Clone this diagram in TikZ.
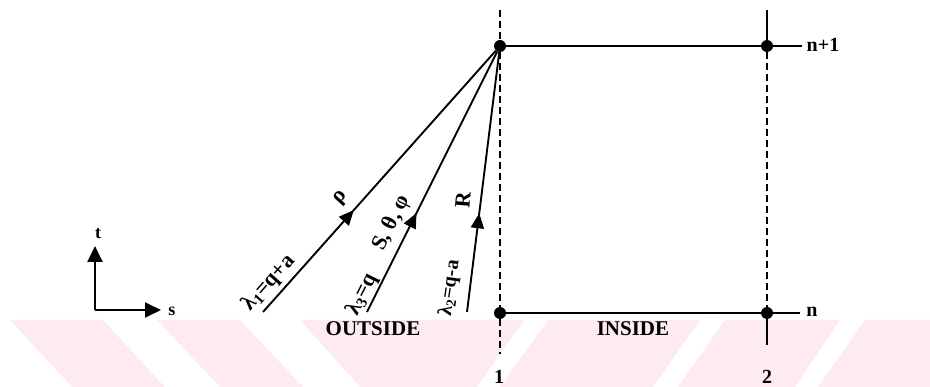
\documentclass[tikz,border=0pt]{standalone}
\usepackage{fontspec}
\setmainfont{Liberation Serif}
\usetikzlibrary{arrows.meta,decorations.markings}
\definecolor{wm}{RGB}{253,235,239}
\tikzset{
  lbl/.style={font=\bfseries\fontsize{20}{22}\selectfont, inner sep=0pt},
  raylbl/.style={font=\bfseries\fontsize{22}{24}\selectfont, inner sep=0pt},
  biglbl/.style={font=\bfseries\fontsize{21}{23}\selectfont, inner sep=0pt},
  smalllbl/.style={font=\bfseries\fontsize{18}{20}\selectfont, inner sep=0pt},
  dot/.style={circle, fill=black, inner sep=0pt, minimum size=12pt},
  solidline/.style={line width=1.9pt},
  dashline/.style={line width=1.5pt, dash pattern=on 7pt off 4pt},
  tip/.style={-{Triangle[length=16pt,width=15pt]}},
  ray/.style={line width=1.9pt, postaction={decorate},
    decoration={markings, mark=at position #1 with {\arrow{Triangle[length=15pt,width=13pt]}}}},
}
\begin{document}
\begin{tikzpicture}[x=1pt,y=-1pt]
\useasboundingbox (0,0) rectangle (930,387);
% watermark band
\fill[wm] (10,320) -- (103,320) -- (165,387) -- (72,387) -- cycle;
\fill[wm] (157,320) -- (240,320) -- (303,387) -- (220,387) -- cycle;
\fill[wm] (300,320) -- (524,320) -- (477,387) -- (360,387) -- cycle;
\fill[wm] (548,320) -- (700,320) -- (653,387) -- (500,387) -- cycle;
\fill[wm] (725,320) -- (840,320) -- (795,387) -- (678,387) -- cycle;
\fill[wm] (865,320) -- (930,320) -- (930,387) -- (818,387) -- cycle;

% grid nodes
\node[dot] (A) at (500,46) {};
\node[dot] (B) at (767,46) {};
\node[dot] (C) at (500,313) {};
\node[dot] (D) at (767,313) {};
\coordinate (Atop) at (500,10);
\coordinate (Cbot) at (500,354);
\coordinate (Btop) at (767,10);
\coordinate (Dbot) at (767,345);
\coordinate (Bend) at (802,46);
\coordinate (Dend) at (800,313);

\draw[dashline] (Atop) -- (A);
\draw[dashline] (A) -- (C);
\draw[dashline] (C) -- (Cbot);
\draw[solidline] (Btop) -- (B);
\draw[dashline] (B) -- (D);
\draw[solidline] (D) -- (Dbot);
\draw[solidline] (A) -- (B) -- (Bend);
\draw[solidline] (C) -- (D) -- (Dend);

% rays
\coordinate (r1) at (263,312);
\coordinate (r2) at (367,312);
\coordinate (r3) at (467,312);
\draw[ray=0.39] (r1) -- (A);
\draw[ray=0.38] (r2) -- (A);
\draw[ray=0.38] (r3) -- (A);

% ray labels
\node[raylbl, rotate=48.3] (lam1) at (269,283) {λ\textsubscript{1}=q+a};
\node[raylbl, rotate=63.4] (lam3) at (362,295) {λ\textsubscript{3}=q};
\node[lbl, rotate=82] (lam2) at (450,288) {λ\textsubscript{2}=q-a};
\node[raylbl, rotate=48.3] (rho) at (341,198) {ρ};
\node[raylbl, rotate=63.4] (stp) at (392,223) {S, θ, φ};
\node[raylbl, rotate=85] (R) at (463,200) {R};

% region labels
\node[biglbl] (out) at (373,329) {OUTSIDE};
\node[biglbl] (in) at (633,329) {INSIDE};
\node[lbl] (one) at (499,377) {1};
\node[lbl] (two) at (767,377) {2};
\node[lbl] (np1) at (823,45) {n+1};
\node[lbl] (nn) at (812,312) {n};

% axes
\coordinate (O) at (95,310);
\coordinate (T) at (95,246);
\coordinate (S) at (161,310);
\draw[solidline, tip] (O) -- (T);
\draw[solidline, tip] (O) -- (S);
\node[smalllbl] (tl) at (98,234) {t};
\node[smalllbl] (sl) at (172,311) {s};
\end{tikzpicture}
\end{document}
